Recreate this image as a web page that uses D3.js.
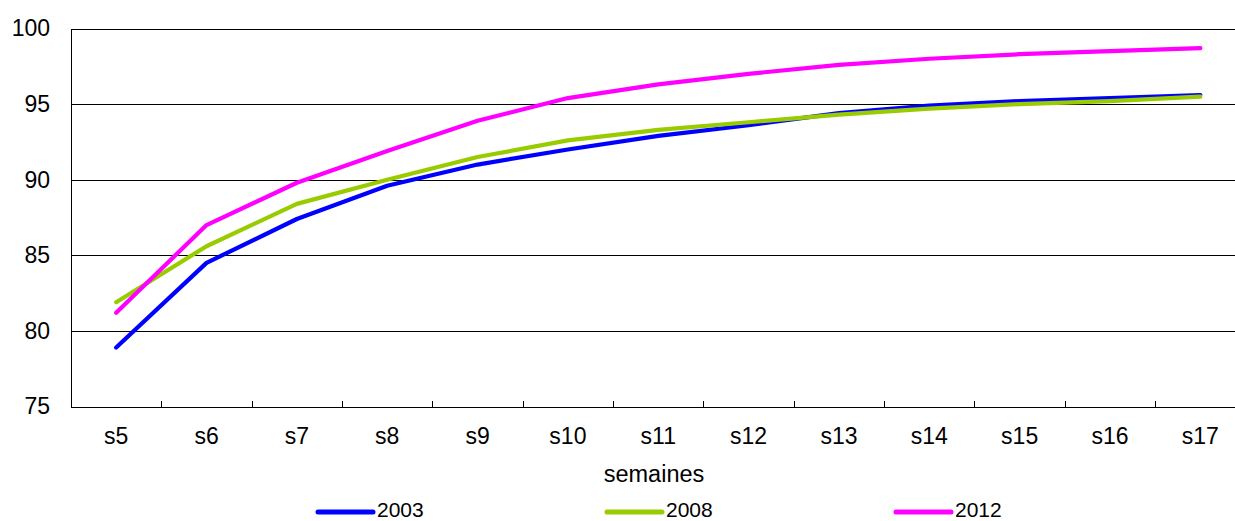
<!DOCTYPE html>
<html>
<head>
<meta charset="utf-8">
<script src="https://cdn.jsdelivr.net/npm/d3@7/dist/d3.min.js"></script>
<style>
  html, body { margin: 0; padding: 0; background: #fff; }
  svg { display: block; }
  text { font-family: "Liberation Sans", Arial, sans-serif; fill: #000; }
</style>
</head>
<body>
<svg id="chart" width="1235" height="521"></svg>
<script>
// Weekly cumulative share (%) by year
const weeks = ["s5", "s6", "s7", "s8", "s9", "s10", "s11", "s12", "s13", "s14", "s15", "s16", "s17"];
const values2003 = [78.9, 84.5, 87.4, 89.6, 91.0, 92.0, 92.9, 93.6, 94.4, 94.9, 95.2, 95.4, 95.6];
const values2008 = [81.9, 85.6, 88.4, 90.0, 91.5, 92.6, 93.3, 93.8, 94.3, 94.7, 95.0, 95.2, 95.5];
const values2012 = [81.2, 87.0, 89.8, 91.9, 93.9, 95.4, 96.3, 97.0, 97.6, 98.0, 98.3, 98.5, 98.7];
const yTicks = [75, 80, 85, 90, 95, 100];
const seriesNames = ["2003", "2008", "2012"];
const seriesColors = ["#0000ff", "#99cc00", "#ff00ff"];
const xTitle = "semaines";

const series = [values2003, values2008, values2012].map((vals, i) => ({
  name: seriesNames[i],
  color: seriesColors[i],
  points: weeks.map((w, j) => ({ week: w, value: vals[j] }))
}));

const svg = d3.select("#chart");
const plotLeft = 71, plotRight = 1245.5, plotTop = 28.5, plotBottom = 406.5;
const fontAxis = "23px";

const x = d3.scaleBand().domain(weeks).range([plotLeft, plotRight]).padding(0);
const y = d3.scaleLinear().domain([75, 100]).range([plotBottom, plotTop]);

// horizontal gridlines
svg.append("g")
  .attr("transform", `translate(${plotLeft},0)`)
  .call(d3.axisLeft(y).tickValues(yTicks.slice(1)).tickSize(-(plotRight - plotLeft)).tickFormat(""))
  .call(g => g.select(".domain").remove())
  .call(g => g.selectAll("line").attr("stroke", "#000").attr("stroke-width", 1).attr("shape-rendering", "crispEdges"));

// y axis with inward ticks
svg.append("g")
  .attr("transform", `translate(${plotLeft},0)`)
  .call(d3.axisLeft(y).tickValues(yTicks).tickSize(-7))
  .call(g => g.select(".domain").attr("stroke", "#000").attr("shape-rendering", "crispEdges"))
  .call(g => g.selectAll(".tick line").attr("stroke", "#000").attr("shape-rendering", "crispEdges"))
  .call(g => g.selectAll(".tick text")
    .attr("x", -21)
    .style("font-size", fontAxis)
    .style("font-family", "'Liberation Sans', Arial, sans-serif")
    .attr("fill", "#000"));

// x axis: baseline, labels at band centres
svg.append("g")
  .attr("transform", `translate(0,${plotBottom})`)
  .call(d3.axisBottom(x).tickSize(0).tickPadding(21))
  .call(g => g.select(".domain").attr("stroke", "#000").attr("shape-rendering", "crispEdges"))
  .call(g => g.selectAll(".tick text")
    .style("font-size", fontAxis)
    .style("font-family", "'Liberation Sans', Arial, sans-serif")
    .attr("fill", "#000"));

// x tick marks at band boundaries, pointing up into the plot
svg.append("g")
  .selectAll("line")
  .data(weeks.slice(1))
  .join("line")
  .attr("x1", d => Math.round(x(d)) + 0.5)
  .attr("x2", d => Math.round(x(d)) + 0.5)
  .attr("y1", plotBottom - 6)
  .attr("y2", plotBottom)
  .attr("stroke", "#000")
  .attr("shape-rendering", "crispEdges");

// axis title
svg.append("text")
  .attr("x", 654)
  .attr("y", 482)
  .attr("text-anchor", "middle")
  .style("font-size", "23.5px")
  .text(xTitle);

// series lines
const line = d3.line()
  .x(d => x(d.week) + x.bandwidth() / 2)
  .y(d => y(d.value));

svg.append("g")
  .selectAll("path")
  .data(series)
  .join("path")
  .attr("d", d => line(d.points))
  .attr("fill", "none")
  .attr("stroke", d => d.color)
  .attr("stroke-width", 4.2)
  .attr("stroke-linecap", "round")
  .attr("stroke-linejoin", "round");

// legend
const legendX = [318, 607, 896];
const legend = svg.append("g")
  .selectAll("g")
  .data(series)
  .join("g")
  .attr("transform", (d, i) => `translate(${legendX[i]},512)`);

legend.append("line")
  .attr("x1", 0).attr("x2", 55)
  .attr("y1", 0).attr("y2", 0)
  .attr("stroke", d => d.color)
  .attr("stroke-width", 5)
  .attr("stroke-linecap", "round");

legend.append("text")
  .attr("x", 59)
  .attr("y", 4.5)
  .style("font-size", "21px")
  .text(d => d.name);
</script>
</body>
</html>
